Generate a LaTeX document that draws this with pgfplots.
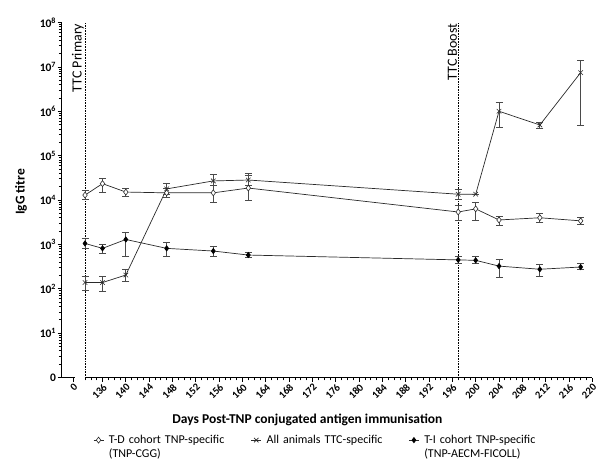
\documentclass[border=0pt]{standalone}
\usepackage{pgfplots}
\pgfplotsset{compat=1.18}
\usepackage{fontspec}
\setmainfont{Carlito}
\definecolor{ln}{HTML}{2a2a2a}
\definecolor{eb}{HTML}{4a4a4a}
\begin{document}
\begin{tikzpicture}
\begin{axis}[name=ax, scale only axis, width=530.6pt, height=355pt,
  xmin=129, xmax=220, ymode=log, ymin=1, ymax=1e8,
  axis lines=left, axis line style={-, line width=1.1pt}, x axis line style={draw=none},
  tick align=outside, clip=false,
  major tick length=4pt, minor tick length=2.8pt,
  every tick/.style={black, line width=0.7pt},
  xtick={131,136,140,144,148,152,156,160,164,168,172,176,180,184,188,192,196,200,204,208,212,216,220},
  xticklabels={0,136,140,144,148,152,156,160,164,168,172,176,180,184,188,192,196,200,204,208,212,216,220},
  minor xtick={133,134,...,220},
  ytick={1,1e1,1e2,1e3,1e4,1e5,1e6,1e7,1e8},
  yticklabels={\textbf{0},\textbf{10\textsuperscript{1}},\textbf{10\textsuperscript{2}},\textbf{10\textsuperscript{3}},\textbf{10\textsuperscript{4}},\textbf{10\textsuperscript{5}},\textbf{10\textsuperscript{6}},\textbf{10\textsuperscript{7}},\textbf{10\textsuperscript{8}}},
  minor ytick={2,3,4,5,6,7,8,9,
    2e1,3e1,4e1,5e1,6e1,7e1,8e1,9e1,
    2e2,3e2,4e2,5e2,6e2,7e2,8e2,9e2,
    2e3,3e3,4e3,5e3,6e3,7e3,8e3,9e3,
    2e4,3e4,4e4,5e4,6e4,7e4,8e4,9e4,
    2e5,3e5,4e5,5e5,6e5,7e5,8e5,9e5,
    2e6,3e6,4e6,5e6,6e6,7e6,8e6,9e6,
    2e7,3e7,4e7,5e7,6e7,7e7,8e7,9e7},
  xticklabel style={rotate=45, anchor=north east, font=\fontsize{10.5}{12}\selectfont\bfseries, inner sep=1pt},
  yticklabel style={font=\fontsize{11.5}{13}\selectfont, inner sep=1.5pt},
  every axis x label/.style={at={(rel axis cs:0.463,0)}, anchor=north, yshift=-36.5pt, font=\fontsize{13.5}{15}\selectfont\bfseries, inner sep=0pt},
  every axis y label/.style={at={(rel axis cs:0,0.523)}, xshift=-34.7pt, rotate=90, anchor=south, font=\fontsize{13.5}{15}\selectfont\bfseries, inner sep=0pt},
  xlabel={Days Post-TNP conjugated antigen immunisation},
  ylabel={IgG titre},
  legend style={draw=none, fill=none, at={(rel axis cs:0,0)}, anchor=north west, xshift=31.3pt, yshift=-56.5pt, inner sep=0pt, font=\fontsize{12}{14}\selectfont, nodes={text width=133pt, align=left, inner sep=1pt}, /tikz/every even column/.append style={column sep=8pt}, /tikz/every odd column/.append style={column sep=4pt}},
  legend columns=3, legend cell align=left,
  legend image code/.code={\draw[mark repeat=2, mark phase=2, #1] plot coordinates {(0pt,0pt) (5pt,0pt) (10pt,0pt)};},
  error bars/y dir=both, error bars/y explicit,
  error bars/error bar style={eb, line width=0.7pt},
  error bars/error mark options={rotate=90, mark size=3.5pt, eb, line width=0.7pt},
]
\addplot[black, densely dotted, line width=0.6pt, forget plot, error bars/y dir=none] coordinates {(133,1) (133,1e8)};
\addplot[black, densely dotted, line width=0.6pt, forget plot, error bars/y dir=none] coordinates {(197,1) (197,1e8)};
% T-D cohort (open diamond)
\addplot[ln, line width=0.7pt, mark=diamond*, mark size=3pt, mark options={fill=white, draw=ln, line width=0.6pt}]
table[x=x, y=y, y error plus=ep, y error minus=em] {
x y ep em
133 12900 3700 2700
136 23400 7500 8300
140 15100 3100 2800
147 14500 3700 2800
155 14500 7400 5600
161 18600 17700 8600
197 5370 2390 1820
200 6310 2400 2760
204 3550 820 860
211 3980 1030 890
218 3390 780 510
};
\addlegendentry{T-D cohort TNP-specific\\(TNP-CGG)}
% TTC-specific (x)
\addplot[ln, line width=0.7pt, mark=x, mark size=3.2pt, mark options={draw=ln, line width=0.6pt}]
table[x=x, y=y, y error plus=ep, y error minus=em] {
x y ep em
133 138 48 45
136 138 57 49
140 204 71 59
147 17800 5600 4300
155 26900 11100 6000
161 28200 12500 6800
197 13500 3900 3300
200 13500 0 0
204 1000000 585000 573000
211 490000 60000 83000
218 7410000 6700000 6920000
};
\addlegendentry{All animals TTC-specific}
% T-I cohort (filled diamond)
\addplot[ln, line width=0.7pt, mark=diamond*, mark size=2.6pt, mark options={fill=black, draw=black}]
table[x=x, y=y, y error plus=ep, y error minus=em] {
x y ep em
133 1050 300 237
136 813 164 196
140 1290 570 740
147 813 287 263
155 708 183 171
161 575 101 62
197 447 103 75
200 437 88 57
204 324 133 142
211 275 80 80
218 309 71 40
};
\addlegendentry{T-I cohort TNP-specific\\(TNP-AECM-FICOLL)}
\draw[black, line width=1.1pt] (axis cs:129,1) -- (axis cs:131.2,1);
\draw[black, line width=1.1pt] (axis cs:133,1) -- (axis cs:220,1);
\node[rotate=90, anchor=south east, font=\fontsize{14}{16}\selectfont, inner sep=1pt] at (axis cs:133,1e8) {TTC Primary};
\node[rotate=90, anchor=south east, font=\fontsize{14}{16}\selectfont, inner sep=1pt] at (axis cs:197,1e8) {TTC Boost};
\end{axis}
\pgfresetboundingbox
\path[use as bounding box] ([xshift=-61.7pt,yshift=-93.5pt]ax.south west) rectangle ([xshift=7.7pt,yshift=22.5pt]ax.north east);
\end{tikzpicture}
\end{document}
